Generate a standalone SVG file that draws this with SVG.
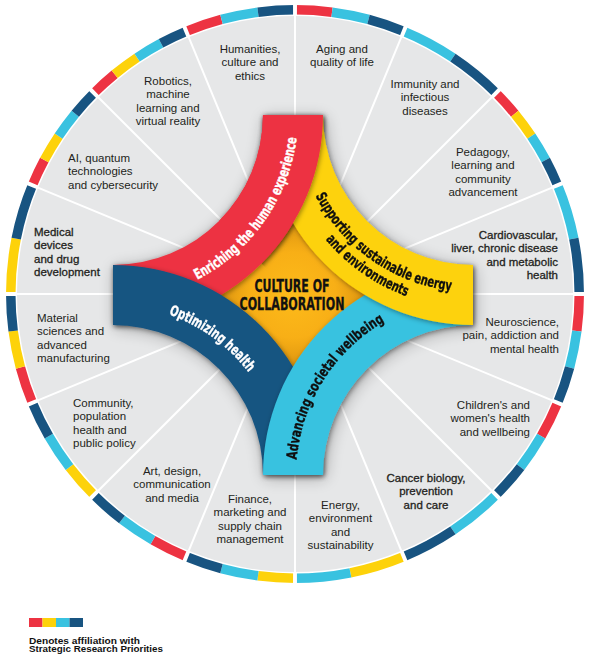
<svg xmlns="http://www.w3.org/2000/svg" width="591" height="655" viewBox="0 0 591 655">
<style>
.lbl{font-family:"Liberation Sans",Arial,sans-serif;font-size:11.5px;fill:#231F20}
.med{stroke:#231F20;stroke-width:0.3px}
.mid{text-anchor:middle}
.end{text-anchor:end}
.band{font-family:"Liberation Sans Narrow","DejaVu Sans Condensed","Liberation Sans",sans-serif;font-weight:bold;font-size:14.5px;stroke-width:0.35px}
.ctr{font-family:"Liberation Sans Narrow","DejaVu Sans Condensed","Liberation Sans",sans-serif;font-weight:bold;font-size:17px;fill:#111;stroke:#111;stroke-width:0.3px;text-anchor:middle}
.ring{fill:none;stroke-width:9.5}
.div{stroke:#fff;stroke-width:2}
.leg{font-family:"Liberation Sans",Arial,sans-serif;font-weight:bold;font-size:9.5px;fill:#111}
</style>
<defs>
<radialGradient id="og" cx="293" cy="295" r="78" gradientUnits="userSpaceOnUse">
<stop offset="0" stop-color="#FDBB1A"/>
<stop offset="0.55" stop-color="#F8AF16"/>
<stop offset="1" stop-color="#D8900E"/>
</radialGradient>
<filter id="sh" x="-20%" y="-20%" width="140%" height="140%">
<feDropShadow dx="1" dy="1.5" stdDeviation="2.5" flood-color="#000" flood-opacity="0.4"/>
</filter>
<filter id="blur" x="-20%" y="-20%" width="140%" height="140%">
<feGaussianBlur stdDeviation="8"/>
</filter>
<clipPath id="topClip"><polygon points="113,115 113,-10 620,-10 620,622"/></clipPath>
<path id="pRed" d="M 176.27,288.84 A 185 185 0 0 0 298,115"/>
<path id="pY1" d="M 298.69,145.74 A 177 177 0 0 0 503.74,289.31"/>
<path id="pY2" d="M 282.93,148.52 A 193 193 0 0 0 506.52,305.07"/>
<path id="pLB" d="M 300.2,513.3 A 177 177 0 0 1 434.7,302.2"/>
<path id="pDB" d="M 86.4,307.1 A 170 170 0 0 1 280.9,448.4"/>
</defs>

<rect width="591" height="655" fill="#fff"/>
<circle cx="295" cy="294" r="278" fill="#E6E7E8"/>

<g id="ring" transform="rotate(-90 295 294)">
<circle class="ring" cx="295" cy="294" r="284.25" pathLength="360" stroke="#ED3342" stroke-dasharray="7.5 37.5 5.625 39.375 7.5 15 7.5 82.5 7.5 37.5 7.5 37.5 5.625 16.875 5.625 16.875 7.5 15"/>
<circle class="ring" cx="295" cy="294" r="284.25" pathLength="360" stroke="#FDD20A" stroke-dasharray="0 50.625 5.625 101.25 11.25 11.25 7.5 37.5 7.5 22.5 7.5 7.5 11.25 16.875 5.625 16.875 5.625 33.75"/>
<circle class="ring" cx="295" cy="294" r="284.25" pathLength="360" stroke="#39C2E0" stroke-dasharray="0 7.5 7.5 7.5 11.25 22.5 5.625 5.625 11.25 18.75 7.5 15 7.5 7.5 11.25 22.5 11.25 7.5 7.5 15 7.5 15 7.5 63.75 5.625 16.875 5.625 13.125 7.5 7.5"/>
<circle class="ring" cx="295" cy="294" r="284.25" pathLength="360" stroke="#185481" stroke-dasharray="0 15 7.5 11.25 11.25 16.875 5.625 11.25 11.25 15 7.5 15 7.5 11.25 11.25 37.5 7.5 15 7.5 15 7.5 15 7.5 11.25 11.25 16.875 5.625 16.875 5.625 15 7.5 0"/>
<circle cx="295" cy="294" r="284.25" pathLength="360" fill="none" stroke="#fff" stroke-width="12" stroke-dasharray="0.8 21.7" stroke-dashoffset="0.4"/>
</g>

<g id="connectors">
<line class="div" x1="295" y1="2" x2="295" y2="586"/>
<line class="div" x1="406.7" y1="24.2" x2="183.3" y2="563.8"/>
<line class="div" x1="501.5" y1="87.5" x2="88.5" y2="500.5"/>
<line class="div" x1="564.8" y1="182.3" x2="25.2" y2="405.7"/>
<line class="div" x1="587" y1="294" x2="3" y2="294"/>
<line class="div" x1="564.8" y1="405.7" x2="25.2" y2="182.3"/>
<line class="div" x1="501.5" y1="500.5" x2="88.5" y2="87.5"/>
<line class="div" x1="406.7" y1="563.8" x2="183.3" y2="24.2"/>
</g>

<path d="M 263,115 L 323,115 A 150 150 0 0 0 473,265 L 473,325 A 150 150 0 0 0 323,475 L 263,475 A 150 150 0 0 0 113,325 L 113,265 A 150 150 0 0 0 263,115 Z" fill="#000" opacity="0.28" filter="url(#blur)" transform="translate(2 3)"/>

<g id="center">
<polygon points="215,295 293,217 371,295 293,373" fill="url(#og)"/>
</g>

<g id="band-red" filter="url(#sh)">
<path d="M 263,115 L 323,115 A 210 210 0 0 1 113,325 L 113,265 A 150 150 0 0 0 263,115 Z" fill="#ED3342"/>
</g>
<g id="band-darkblue" filter="url(#sh)">
<path d="M 113,325 L 113,265 A 210 210 0 0 1 323,475 L 263,475 A 150 150 0 0 0 113,325 Z" fill="#185481"/>
<text class="band" fill="#fff" stroke="#fff"><textPath href="#pDB" startOffset="50%" text-anchor="middle" textLength="100" lengthAdjust="spacingAndGlyphs">Optimizing health</textPath></text>
</g>
<g id="band-lightblue" filter="url(#sh)">
<path d="M 473,325 L 473,265 A 210 210 0 0 0 263,475 L 323,475 A 150 150 0 0 1 473,325 Z" fill="#39C2E0"/>
<text class="band" fill="#111" stroke="#111"><textPath href="#pLB" startOffset="50%" text-anchor="middle" textLength="170" lengthAdjust="spacingAndGlyphs">Advancing societal wellbeing</textPath></text>
</g>
<g id="band-yellow" filter="url(#sh)">
<path d="M 323,115 L 263,115 A 210 210 0 0 0 473,325 L 473,265 A 150 150 0 0 1 323,115 Z" fill="#FDD20A"/>
<text class="band" fill="#111" stroke="#111"><textPath href="#pY1" startOffset="50%" text-anchor="middle" textLength="172" lengthAdjust="spacingAndGlyphs">Supporting sustainable energy</textPath></text>
<text class="band" fill="#111" stroke="#111"><textPath href="#pY2" startOffset="50%" text-anchor="middle" textLength="100" lengthAdjust="spacingAndGlyphs">and environments</textPath></text>
</g>
<g id="band-red-top" clip-path="url(#topClip)">
<g filter="url(#sh)">
<path d="M 263,115 L 323,115 A 210 210 0 0 1 113,325 L 113,265 A 150 150 0 0 0 263,115 Z" fill="#ED3342"/>
</g>
</g>
<g id="band-red-text">
<text class="band" fill="#fff" stroke="#fff"><textPath href="#pRed" startOffset="50%" text-anchor="middle" textLength="180" lengthAdjust="spacingAndGlyphs">Enriching the human experience</textPath></text>
</g>

<g id="center-text">
<text class="ctr" x="292" y="292" textLength="75" lengthAdjust="spacingAndGlyphs">CULTURE OF</text>
<text class="ctr" x="292" y="310" textLength="105" lengthAdjust="spacingAndGlyphs">COLLABORATION</text>
</g>

<g id="aging"><text class="lbl mid" y="53"><tspan x="342">Aging and</tspan><tspan x="342" dy="13.3">quality of life</tspan></text></g>
<g id="immunity"><text class="lbl mid" y="88"><tspan x="425">Immunity and</tspan><tspan x="425" dy="13.3">infectious</tspan><tspan x="425" dy="13.3">diseases</tspan></text></g>
<g id="pedagogy"><text class="lbl mid" y="156"><tspan x="483">Pedagogy,</tspan><tspan x="483" dy="13.3">learning and</tspan><tspan x="483" dy="13.3">community</tspan><tspan x="483" dy="13.3">advancement</tspan></text></g>
<g id="cardio"><text class="lbl med end" y="239"><tspan x="558">Cardiovascular,</tspan><tspan x="558" dy="13.3">liver, chronic disease</tspan><tspan x="558" dy="13.3">and metabolic</tspan><tspan x="558" dy="13.3">health</tspan></text></g>
<g id="neuro"><text class="lbl end" y="326"><tspan x="559">Neuroscience,</tspan><tspan x="559" dy="13.3">pain, addiction and</tspan><tspan x="559" dy="13.3">mental health</tspan></text></g>
<g id="children"><text class="lbl end" y="409"><tspan x="530">Children's and</tspan><tspan x="530" dy="13.3">women's health</tspan><tspan x="530" dy="13.3">and wellbeing</tspan></text></g>
<g id="cancer"><text class="lbl med mid" y="482"><tspan x="426">Cancer biology,</tspan><tspan x="426" dy="13.3">prevention</tspan><tspan x="426" dy="13.3">and care</tspan></text></g>
<g id="energy"><text class="lbl mid" y="509"><tspan x="340.5">Energy,</tspan><tspan x="340.5" dy="13.3">environment</tspan><tspan x="340.5" dy="13.3">and</tspan><tspan x="340.5" dy="13.3">sustainability</tspan></text></g>
<g id="finance"><text class="lbl mid" y="503"><tspan x="250">Finance,</tspan><tspan x="250" dy="13.3">marketing and</tspan><tspan x="250" dy="13.3">supply chain</tspan><tspan x="250" dy="13.3">management</tspan></text></g>
<g id="art"><text class="lbl mid" y="475"><tspan x="172">Art, design,</tspan><tspan x="172" dy="13.3">communication</tspan><tspan x="172" dy="13.3">and media</tspan></text></g>
<g id="community"><text class="lbl" y="407"><tspan x="73">Community,</tspan><tspan x="73" dy="13.3">population</tspan><tspan x="73" dy="13.3">health and</tspan><tspan x="73" dy="13.3">public policy</tspan></text></g>
<g id="material"><text class="lbl" y="322"><tspan x="37">Material</tspan><tspan x="37" dy="13.3">sciences and</tspan><tspan x="37" dy="13.3">advanced</tspan><tspan x="37" dy="13.3">manufacturing</tspan></text></g>
<g id="medical"><text class="lbl med" y="236"><tspan x="34">Medical</tspan><tspan x="34" dy="13.3">devices</tspan><tspan x="34" dy="13.3">and drug</tspan><tspan x="34" dy="13.3">development</tspan></text></g>
<g id="ai"><text class="lbl" y="162"><tspan x="68">AI, quantum</tspan><tspan x="68" dy="13.3">technologies</tspan><tspan x="68" dy="13.3">and cybersecurity</tspan></text></g>
<g id="robotics"><text class="lbl mid" y="85"><tspan x="168">Robotics,</tspan><tspan x="168" dy="13.3">machine</tspan><tspan x="168" dy="13.3">learning and</tspan><tspan x="168" dy="13.3">virtual reality</tspan></text></g>
<g id="humanities"><text class="lbl mid" y="53"><tspan x="250">Humanities,</tspan><tspan x="250" dy="13.3">culture and</tspan><tspan x="250" dy="13.3">ethics</tspan></text></g>

<g id="legend">
<rect x="29" y="618" width="13.5" height="9" fill="#ED3342"/>
<rect x="42.5" y="618" width="13.5" height="9" fill="#FDD20A"/>
<rect x="56" y="618" width="13.5" height="9" fill="#39C2E0"/>
<rect x="69.5" y="618" width="13.5" height="9" fill="#185481"/>
<text class="leg" x="29" y="643.5" textLength="111" lengthAdjust="spacingAndGlyphs">Denotes affiliation with</text>
<text class="leg" x="29" y="652" textLength="134" lengthAdjust="spacingAndGlyphs">Strategic Research Priorities</text>
</g>
</svg>
